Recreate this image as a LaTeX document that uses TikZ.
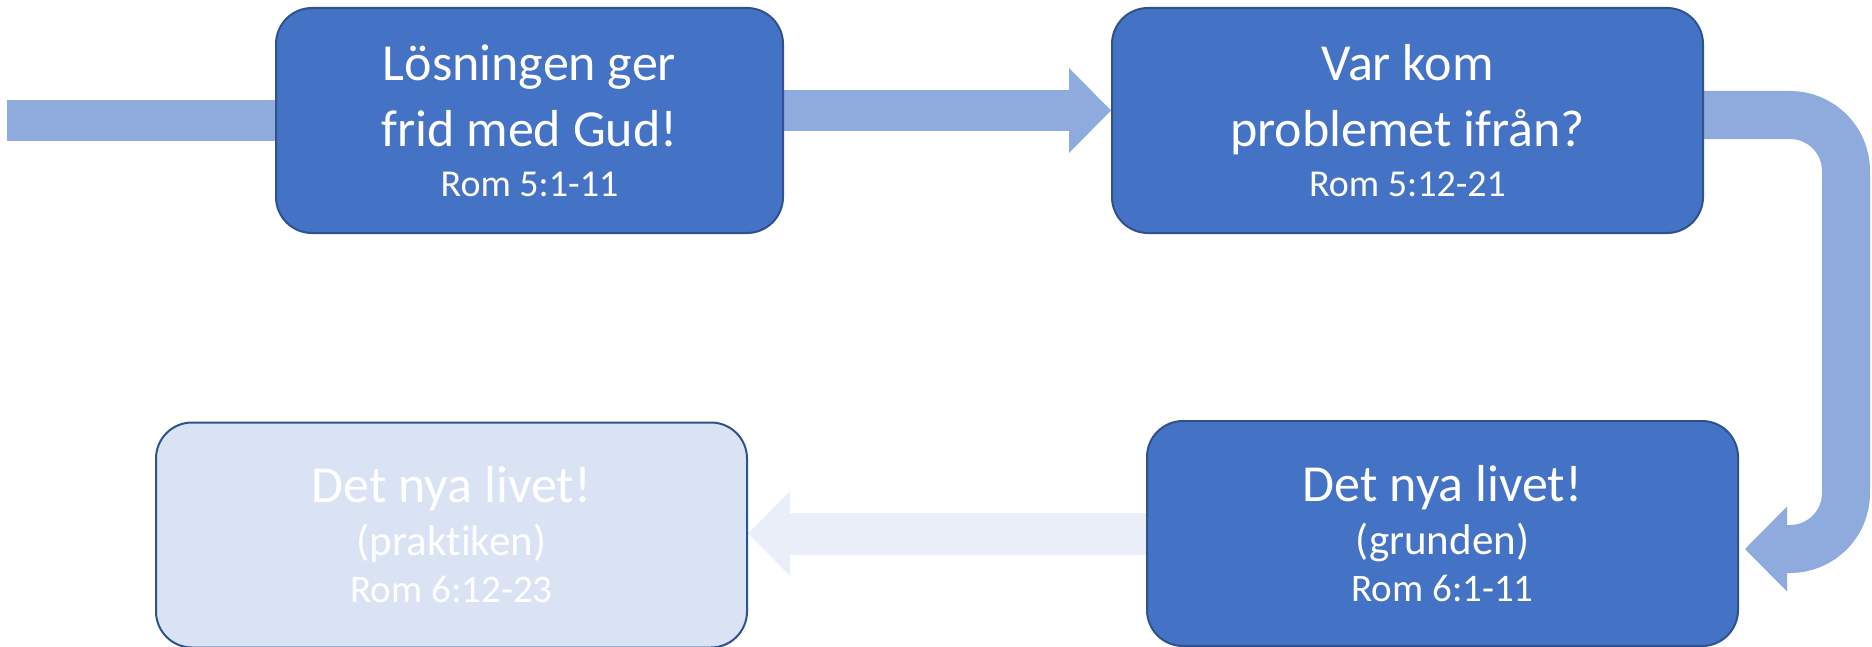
\documentclass[tikz,border=0pt]{standalone}
\usepackage{fontspec}
\setmainfont{Carlito}[RawFeature={-liga;-clig;-calt;-rlig;-dlig}]
\usetikzlibrary{arrows.meta,backgrounds}
\definecolor{boxblue}{HTML}{4472C4}
\definecolor{boxline}{HTML}{2F528F}
\definecolor{arrowblue}{HTML}{8FAADC}
\definecolor{fadedfill}{HTML}{DAE3F3}
\definecolor{fadedarrow}{HTML}{E9EEF8}

\begin{document}
\begin{tikzpicture}[x=0.5pt,y=-0.5pt]
\tikzset{main box/.style={ %
		draw=boxline,
		fill=#1,
		line width=1pt,
		rounded corners=18pt,
		minimum height=112.5pt,
		minimum width=295.5pt,
		text=white,
		align=center,
		inner sep=0pt,
		font=\fontsize{26}{33}\selectfont %
	},
	main box/.default=boxblue,
	block arrow/.style={ %
		draw=#1,
		line width=20.5pt,
		-{Triangle[length=21pt,width=42.5pt,line width=0pt]} %
	}
}
\useasboundingbox (0,0) rectangle (1872,647);
\node[main box,minimum width=253.5pt] (peace) at (529.5,120.5) {Lösningen ger\\frid med Gud!\\[-8pt]{\fontsize{19}{23}\selectfont Rom 5:1-11}};
\node[main box] (origin) at (1407.5,120.5) {Var kom\\problemet ifrån?\\[-8pt]{\fontsize{19}{23}\selectfont Rom 5:12-21}};
\node[main box] (basis) at (1442.5,533.5) {Det nya livet!\\[-6.5pt]{\fontsize{21.5}{26}\selectfont (grunden)}\\[-9.5pt]{\fontsize{19.5}{23}\selectfont Rom 6:1-11}};
\node[main box=fadedfill] (practice) at (451.5,535) {Det nya livet!\\[-6.5pt]{\fontsize{21.5}{26}\selectfont (praktiken)}\\[-9.5pt]{\fontsize{19.5}{23}\selectfont Rom 6:12-23}};
\coordinate (start) at (7,120.5);
\coordinate (rail) at (1846,330);
\coordinate (tip) at ([xshift=3pt,yshift=-7.75pt]basis.east);
\begin{pgfonlayer}{background}
\draw[line width=20.5pt,arrowblue] (start) -- (peace.west);
\draw[block arrow=arrowblue] ([yshift=5pt]peace.east) -- ([yshift=5pt]peace.east -| origin.west);
\draw[block arrow=arrowblue,line width=24pt,rounded corners=28pt] ([yshift=2.75pt]origin.east) -| (rail) |- (tip);
\draw[block arrow=fadedarrow,line width=21pt] (basis.west) -- (basis.west -| practice.east);
\end{pgfonlayer}
\end{tikzpicture}
\end{document}
